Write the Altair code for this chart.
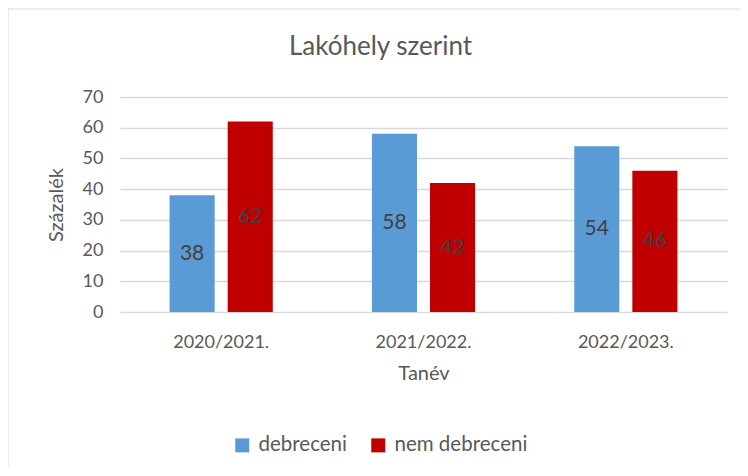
import altair as alt
import pandas as pd

years = ["2020/2021.", "2021/2022.", "2022/2023."]
series = ["debreceni", "nem debreceni"]
debreceni = [38, 58, 54]
nem_debreceni = [62, 42, 46]
y_ticks = [0, 10, 20, 30, 40, 50, 60, 70]
colors = ["#5B9BD5", "#C00000"]

rows = []
for i, yr in enumerate(years):
    rows.append({"Tanév": yr, "series": series[0], "value": debreceni[i]})
    rows.append({"Tanév": yr, "series": series[1], "value": nem_debreceni[i]})
df = pd.DataFrame(rows)
df["mid"] = df["value"] / 2

font = "Lato"
grey = "#595959"

x_axis = alt.Axis(title="Tanév", labelAngle=0, ticks=False, domain=False,
                  labelPadding=21, labelFontSize=18, labelFont=font, labelColor=grey,
                  titleFontSize=20, titleFont=font, titleColor=grey,
                  titleFontWeight="normal", titlePadding=12)
y_axis = alt.Axis(title="Százalék", values=y_ticks, ticks=False, domain=False,
                  labelPadding=17, labelFontSize=18, labelFont=font, labelColor=grey,
                  titleFontSize=20, titleFont=font, titleColor=grey,
                  titleFontWeight="normal", titlePadding=16,
                  gridColor="#d9d9d9", gridWidth=1.3)
x_scale = alt.Scale(paddingInner=0.49, paddingOuter=0.245)
y_scale = alt.Scale(domain=[0, 70], nice=False)
off_scale = alt.Scale(paddingInner=0.224, paddingOuter=0)

base = alt.Chart(df)

bars = base.mark_bar().encode(
    x=alt.X("Tanév:N", sort=years, scale=x_scale, axis=x_axis),
    xOffset=alt.XOffset("series:N", sort=series, scale=off_scale),
    y=alt.Y("value:Q", scale=y_scale, axis=y_axis),
    color=alt.Color("series:N", sort=series,
                    scale=alt.Scale(domain=series, range=colors),
                    legend=alt.Legend(orient="none", legendX=112, legendY=338,
                                      direction="horizontal", title=None,
                                      symbolType="square", symbolSize=196,
                                      symbolStrokeWidth=0, labelFontSize=20.5,
                                      labelFont=font, labelColor=grey,
                                      columnPadding=21, labelOffset=6)),
)

labels = base.mark_text(fontSize=21, font=font, color="#404040").encode(
    x=alt.X("Tanév:N", sort=years, scale=x_scale, axis=x_axis),
    xOffset=alt.XOffset("series:N", sort=series, scale=off_scale),
    y=alt.Y("mid:Q", scale=y_scale, axis=y_axis),
    text=alt.Text("value:Q"),
)

border = alt.Chart(pd.DataFrame({"a": [0]})).mark_rect(
    fill=None, stroke="#d9d9d9", strokeWidth=1
).encode(
    x=alt.value(-112), x2=alt.value(700), y=alt.value(-88), y2=alt.value(400)
)

chart = alt.layer(border, bars, labels).properties(
    width=607,
    height=215,
    autosize="none",
    padding={"left": 112, "top": 89, "right": 13, "bottom": 156},
    title=alt.TitleParams("Lakóhely szerint", fontSize=26, font=font, color=grey,
                          fontWeight="normal", baseline="alphabetic",
                          offset=-72, dx=-43),
).configure(background="white", view=alt.ViewConfig(stroke=None))

chart.save("out.html", embed_options={"renderer": "svg", "actions": False})
